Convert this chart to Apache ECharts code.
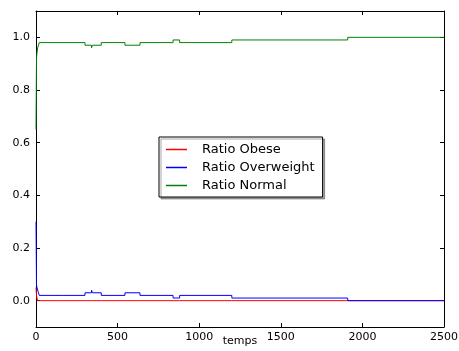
<!DOCTYPE html>
<html><head><meta charset="utf-8">
<script src="https://cdn.jsdelivr.net/npm/echarts@6/dist/echarts.min.js"></script>
<style>html,body{margin:0;padding:0;background:#fff}#c{width:459px;height:351px}</style>
</head><body><div id="c"></div>
<script>
var times      = [0, 3, 6, 10, 15, 20, 160, 164, 300, 340, 346, 400, 545, 637, 840, 880, 1200, 1910, 2500];
var obese      = [0.05, 0.02, 0.01, 0, 0, 0, 0, 0, 0, 0, 0, 0, 0, 0, 0, 0, 0, 0, 0];
var overweight = [0.30, 0.06, 0.05, 0.04, 0.03, 0.02, 0.026, 0.02, 0.03, 0.04, 0.03, 0.02, 0.03, 0.02, 0.01, 0.02, 0.01, 0.0, 0.0];
var normal     = [0.65, 0.92, 0.94, 0.96, 0.97, 0.98, 0.974, 0.98, 0.97, 0.96, 0.97, 0.98, 0.97, 0.98, 0.99, 0.98, 0.99, 1.0, 1.0];
var yTicks = [0, 0.2, 0.4, 0.6, 0.8, 1.0];
var seriesNames = ['Ratio Obese', 'Ratio Overweight', 'Ratio Normal'];

function pairs(v){ return times.map(function(t,i){ return [t, v[i]]; }); }
var font = 'DejaVu Sans';
var axisLine = {show:true, onZero:false, lineStyle:{color:'#000', width:1}};
var chart = echarts.init(document.getElementById('c'));
chart.setOption({
  animation:false,
  textStyle:{fontFamily:font},
  grid:{left:36, right:15, top:11, bottom:24, outerBoundsMode:'none', containLabel:false},
  xAxis:[{
    type:'value', min:0, max:2500, interval:500,
    name:'temps', nameLocation:'middle', nameGap:9, nameMoveOverlap:false,
    nameTextStyle:{fontSize:11, color:'#000', fontFamily:font, verticalAlign:'top'},
    axisLine:axisLine, axisTick:{show:true, inside:true, length:4, lineStyle:{color:'#000'}},
    axisLabel:{fontSize:11, color:'#000', fontFamily:font, margin:5, formatter:function(v){return String(v);}},
    splitLine:{show:false}
  },{
    type:'value', min:0, max:2500, interval:500, position:'top',
    axisLine:axisLine, axisTick:{show:true, inside:true, length:4, lineStyle:{color:'#000'}},
    axisLabel:{show:false}, splitLine:{show:false}
  }],
  yAxis:[{
    type:'value', min:-0.1, max:1.1,
    axisLine:axisLine,
    axisTick:{show:true, inside:true, length:4, customValues:yTicks, lineStyle:{color:'#000'}},
    axisLabel:{fontSize:11, color:'#000', fontFamily:font, margin:6, customValues:yTicks,
      formatter:function(v){return v.toFixed(1);}},
    splitLine:{show:false}
  },{
    type:'value', min:-0.1, max:1.1, position:'right',
    axisLine:axisLine,
    axisTick:{show:true, inside:true, length:4, customValues:yTicks, lineStyle:{color:'#000'}},
    axisLabel:{show:false, customValues:yTicks}, splitLine:{show:false}
  }],
  legend:{
    orient:'vertical', left:159, top:137,
    data:seriesNames,
    icon:'rect', itemWidth:21, itemHeight:1.5, itemGap:5,
    padding:[6,8,5,7],
    backgroundColor:'#fff', borderColor:'#000', borderWidth:1, borderRadius:0,
    shadowColor:'rgba(0,0,0,0.35)', shadowOffsetX:2, shadowOffsetY:2, shadowBlur:0,
    textStyle:{fontSize:13, color:'#000', fontFamily:font, padding:[0,0,0,10]}
  },
  series:[
    {name:seriesNames[0], type:'line', step:'end', symbol:'none', data:pairs(obese), color:'#ff0000', lineStyle:{width:1}},
    {name:seriesNames[1], type:'line', step:'end', symbol:'none', data:pairs(overweight), color:'#0000ff', lineStyle:{width:1}},
    {name:seriesNames[2], type:'line', step:'end', symbol:'none', data:pairs(normal), color:'#008000', lineStyle:{width:1}}
  ]
});
</script></body></html>
